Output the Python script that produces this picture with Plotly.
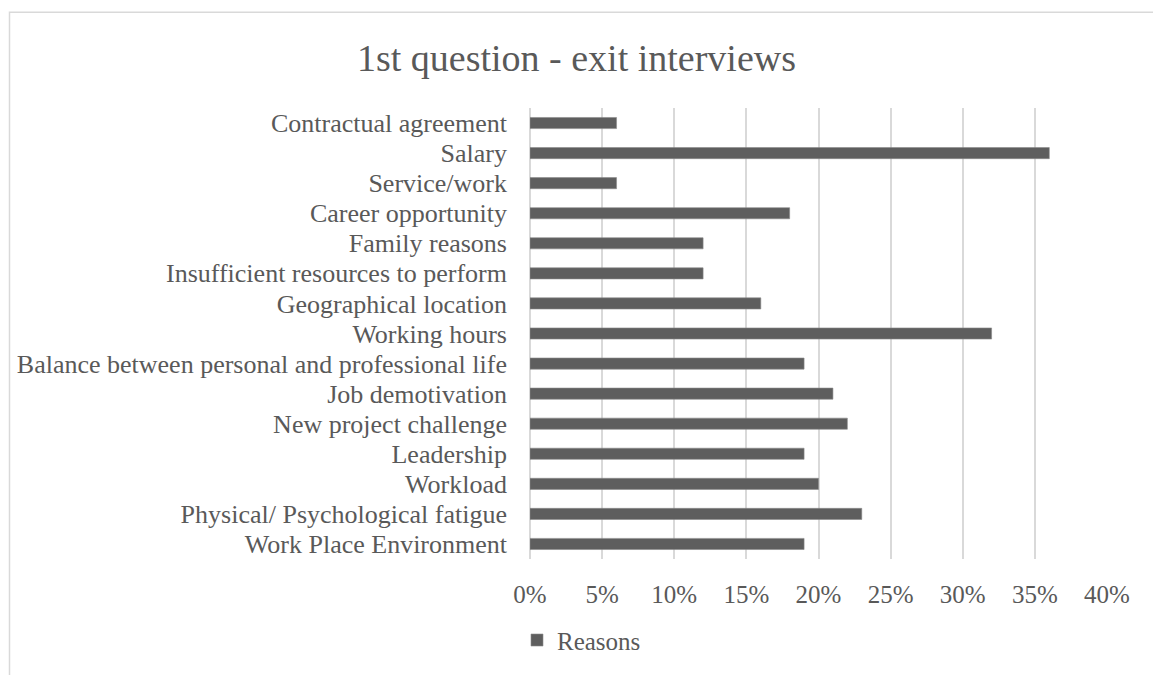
import plotly.graph_objects as go

categories = [
    "Contractual agreement",
    "Salary",
    "Service/work",
    "Career opportunity",
    "Family reasons",
    "Insufficient resources to perform",
    "Geographical location",
    "Working hours",
    "Balance between personal and professional life",
    "Job demotivation",
    "New project challenge",
    "Leadership",
    "Workload",
    "Physical/ Psychological fatigue",
    "Work Place Environment",
]
values = [0.06, 0.36, 0.06, 0.18, 0.12, 0.12, 0.16, 0.32, 0.19, 0.21, 0.22, 0.19, 0.20, 0.23, 0.19]
tick_vals = [0, 0.05, 0.10, 0.15, 0.20, 0.25, 0.30, 0.35, 0.40]
tick_text = ["0%", "5%", "10%", "15%", "20%", "25%", "30%", "35%", "40%"]

FONT = "Liberation Serif"
TXT = "#595959"
GRID = "#d9d9d9"

W, H = 1153, 675
L, R, T, B = 530, 46, 108, 112
pw, ph = W - L - R, H - T - B

def px_x(px):
    return (px - L) / pw

def px_y(py):
    return (H - B - py) / ph

fig = go.Figure()
fig.add_trace(go.Bar(
    x=values, y=categories, orientation="h", name="Reasons",
    marker=dict(color="#5e5e5e", line=dict(color="#8a8a8a", width=0.6)),
    width=0.37, showlegend=True,
))

fig.update_layout(
    width=W, height=H,
    margin=dict(l=L, r=R, t=T, b=B),
    paper_bgcolor="white", plot_bgcolor="white",
    font=dict(family=FONT, size=25, color=TXT),
    title=dict(text="1st question - exit interviews", x=0.5, xanchor="center",
               y=1 - 58 / H, yanchor="middle", yref="container",
               font=dict(family=FONT, size=38, color=TXT)),
    xaxis=dict(range=[0, 0.4], tickvals=tick_vals, ticktext=tick_text,
               showgrid=True, gridcolor=GRID, gridwidth=1.6,
               zeroline=True, zerolinecolor=GRID, zerolinewidth=1.6,
               showline=False, ticks="", ticklabelstandoff=18,
               tickfont=dict(family=FONT, size=25, color=TXT), fixedrange=True),
    yaxis=dict(autorange="reversed", showgrid=False, zeroline=False, showline=False,
               tickmode="array", tickvals=categories, ticktext=categories,
               ticks="", ticklabelstandoff=22,
               tickfont=dict(family=FONT, size=26, color=TXT)),
    showlegend=True,
    legend=dict(orientation="h", x=px_x(517), xanchor="left", y=px_y(645), yanchor="middle",
                font=dict(family=FONT, size=25, color=TXT), bgcolor="rgba(0,0,0,0)",
                itemwidth=30),
    bargap=0.63,
    shapes=[dict(type="rect", xref="paper", yref="paper",
                 x0=px_x(9.5), x1=px_x(1170), y0=px_y(700), y1=px_y(11.5),
                 line=dict(color=GRID, width=1.5), fillcolor="rgba(0,0,0,0)", layer="below")],
)

fig.write_html("out.html")
